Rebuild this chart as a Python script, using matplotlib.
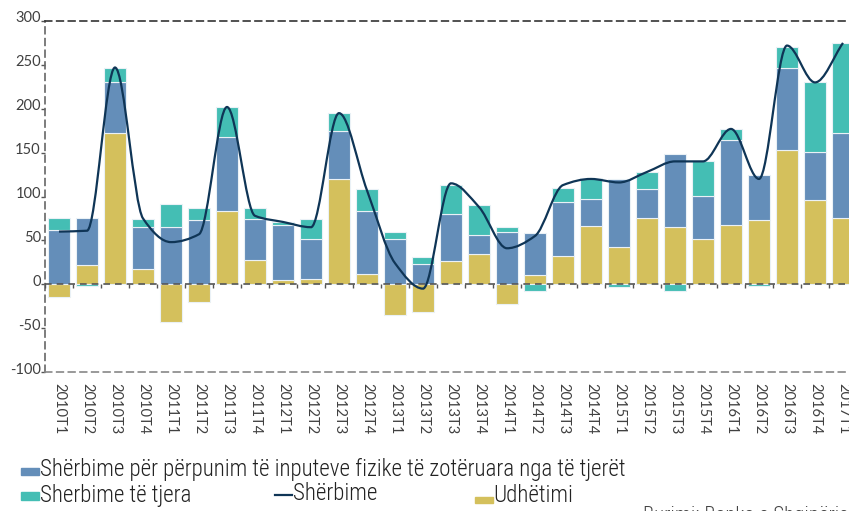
import matplotlib
matplotlib.use("Agg")
import matplotlib.pyplot as plt
import numpy as np
from matplotlib.patches import PathPatch, Rectangle
from matplotlib.path import Path
from matplotlib.lines import Line2D
import matplotlib.transforms as mtransforms

quarters = ["2010T1", "2010T2", "2010T3", "2010T4",
            "2011T1", "2011T2", "2011T3", "2011T4",
            "2012T1", "2012T2", "2012T3", "2012T4",
            "2013T1", "2013T2", "2013T3", "2013T4",
            "2014T1", "2014T2", "2014T3", "2014T4",
            "2015T1", "2015T2", "2015T3", "2015T4",
            "2016T1", "2016T2", "2016T3", "2016T4",
            "2017T1"]

udhetimi = [-15, 22, 172, 17, -43, -20, 83, 28, 5, 6, 120, 12, -35, -32, 26,
            34, -22, 11, 32, 66, 43, 76, 65, 51, 67, 73, 153, 96, 76]
perpunim = [62, 54, 58, 48, 65, 73, 85, 46, 62, 46, 55, 72, 51, 23, 54,
            22, 59, 47, 62, 31, 77, 32, 83, 50, 97, 51, 93, 55, 96]
te_tjera = [13, -2, 17, 9, 27, 14, 34, 12.5, 4.5, 22, 20, 25, 8, 8, 33,
            34, 6, -8, 16, 24, -3, 20, -8, 40, 13, -2, 24, 79, 103]
sherbime = [60, 61, 247, 75, 48, 57, 202, 78, 71, 65, 195, 107, 24, -5, 115,
            88, 41, 55, 113, 120, 116, 128, 140, 140, 177, 120, 272, 230, 275]

yticks = [-100, -50, 0, 50, 100, 150, 200, 250, 300]

c_yellow = "#D4C05C"
c_blue = "#648EB9"
c_teal = "#44BEB4"
c_line = "#0F3556"
txt_col = "#404040"

legend_font = ["Roboto Condensed", "DejaVu Sans"]
tick_font = ["Lato", "DejaVu Sans"]


def smooth_path(xs, ys):
    # monotone cubic (Fritsch-Carlson) drawn as bezier segments
    xs = np.asarray(xs, dtype=float)
    ys = np.asarray(ys, dtype=float)
    h = np.diff(xs)
    s = np.diff(ys) / h
    d = np.zeros(len(ys))
    d[0], d[-1] = s[0], s[-1]
    for i in range(1, len(ys) - 1):
        if s[i - 1] * s[i] > 0:
            d[i] = 2 * s[i - 1] * s[i] / (s[i - 1] + s[i])
    verts = [(xs[0], ys[0])]
    codes = [Path.MOVETO]
    for i in range(len(xs) - 1):
        verts += [(xs[i] + h[i] / 3, ys[i] + d[i] * h[i] / 3),
                  (xs[i + 1] - h[i] / 3, ys[i + 1] - d[i + 1] * h[i] / 3),
                  (xs[i + 1], ys[i + 1])]
        codes += [Path.CURVE4] * 3
    return Path(verts, codes)


fig = plt.figure(figsize=(8.49, 5.11), dpi=100)
ax = fig.add_axes([45 / 849, 139 / 511, 812 / 849, 351 / 511])

x = np.arange(len(quarters))
pos_bottom = np.zeros(len(x))
neg_bottom = np.zeros(len(x))
for vals, col in [(udhetimi, c_yellow), (perpunim, c_blue), (te_tjera, c_teal)]:
    v = np.array(vals, dtype=float)
    bottom = np.where(v >= 0, pos_bottom, neg_bottom)
    ax.bar(x, v, width=0.79, bottom=bottom, color=col,
           edgecolor="#eaf1f6", linewidth=0.8, zorder=2)
    pos_bottom = pos_bottom + np.where(v >= 0, v, 0)
    neg_bottom = neg_bottom + np.where(v < 0, v, 0)

ax.add_patch(PathPatch(smooth_path(x, sherbime), facecolor="none",
                       edgecolor=c_line, linewidth=1.6, zorder=5))

# axis decoration
dash = (0, (4, 3))
ax.axhline(0, color="#555555", linewidth=1.2, linestyle=dash, zorder=3)
ax.vlines(np.arange(len(x) + 1) - 0.5, -4, 0, color="#555555", linewidth=1, zorder=3)
ax.spines["right"].set_visible(False)
ax.spines["top"].set_linestyle(dash)
ax.spines["top"].set_color("#333333")
ax.spines["top"].set_linewidth(1.2)
ax.spines["left"].set_linestyle(dash)
ax.spines["left"].set_color("#666666")
ax.spines["left"].set_linewidth(1.2)
ax.spines["bottom"].set_linestyle(dash)
ax.spines["bottom"].set_color("#888888")
ax.spines["bottom"].set_linewidth(1.2)

ax.set_xlim(-0.5, len(x) - 0.5)
ax.set_ylim(-100, 300)
ax.set_yticks(yticks)
ax.set_yticklabels([str(t) for t in yticks], family=tick_font, fontsize=10.5, color=txt_col)
ax.tick_params(axis="y", length=3, width=1, color="#555555", pad=0)
offset = mtransforms.ScaledTranslation(0, 4 / 100, fig.dpi_scale_trans)
for lab in ax.get_yticklabels():
    lab.set_transform(lab.get_transform() + offset)

ax.set_xticks(x)
ax.set_xticklabels(quarters, rotation=-90, family=tick_font, fontsize=10.5, color=txt_col)
ax.tick_params(axis="x", length=0, pad=8)


# legend
def fx(px):
    return px / 849


def fy(py):
    return 1 - py / 511


leg_kw = dict(family=legend_font, stretch="condensed", weight="light",
              fontsize=16.6, color="#222222", va="center")
fig.patches.append(Rectangle((fx(21), fy(475)), fx(18), 7 / 511, color=c_blue,
                             transform=fig.transFigure, figure=fig))
fig.text(fx(40), fy(469), "Shërbime për përpunim të inputeve fizike të zotëruara nga të tjerët", **leg_kw)
fig.patches.append(Rectangle((fx(21), fy(500)), fx(18), 8 / 511, color=c_teal,
                             transform=fig.transFigure, figure=fig))
fig.text(fx(40), fy(495), "Sherbime të tjera", **leg_kw)
fig.lines.append(Line2D([fx(275), fx(292)], [fy(495), fy(495)], color=c_line,
                        linewidth=1.6, transform=fig.transFigure, figure=fig))
fig.text(fx(293), fy(494), "Shërbime", **leg_kw)
fig.patches.append(Rectangle((fx(475), fy(503)), fx(18), 6 / 511, color=c_yellow,
                             transform=fig.transFigure, figure=fig))
fig.text(fx(493), fy(495), "Udhëtimi", **leg_kw)
fig.text(fx(643), fy(506), "Burimi: Banka e Shqipërisë",
         family=legend_font, stretch="condensed", weight="light",
         fontsize=15, color="#444444", va="top")

fig.savefig("out.png", dpi=100)
